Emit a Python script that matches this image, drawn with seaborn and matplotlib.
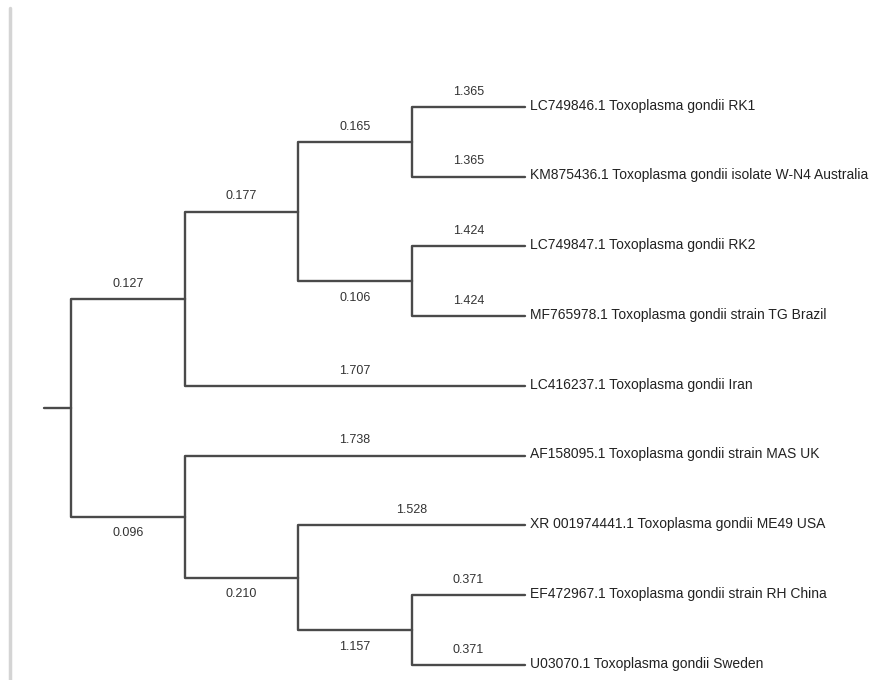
import pandas as pd
import seaborn as sns
import matplotlib.pyplot as plt

# Tree data (cladogram, tips aligned); children listed top to bottom
nodes = ["root", "A1", "B1", "C1", "C2", "A2", "B2", "C3"]
internal_length = [None, 0.127, 0.177, 0.165, 0.106, 0.096, 0.210, 1.157]

leaf_labels = [
    "LC749846.1 Toxoplasma gondii RK1",
    "KM875436.1 Toxoplasma gondii isolate W-N4 Australia",
    "LC749847.1 Toxoplasma gondii RK2",
    "MF765978.1 Toxoplasma gondii strain TG Brazil",
    "LC416237.1 Toxoplasma gondii Iran",
    "AF158095.1 Toxoplasma gondii strain MAS UK",
    "XR 001974441.1 Toxoplasma gondii ME49 USA",
    "EF472967.1 Toxoplasma gondii strain RH China",
    "U03070.1 Toxoplasma gondii Sweden",
]
leaf_length = [1.365, 1.365, 1.424, 1.424, 1.707, 1.738, 1.528, 0.371, 0.371]

# children of each internal node, top to bottom (ints are leaf indices)
children = {
    "root": ["A1", "A2"],
    "A1": ["B1", 4],
    "B1": ["C1", "C2"],
    "C1": [0, 1],
    "C2": [2, 3],
    "A2": [5, "B2"],
    "B2": [6, "C3"],
    "C3": [7, 8],
}

FONT = "Liberation Sans"
TIP_DEPTH = 4
pos = {}


def place(n, depth):
    if isinstance(n, int):
        pos[n] = (TIP_DEPTH, float(n))
        return pos[n]
    ys = [place(c, depth + 1)[1] for c in children[n]]
    pos[n] = (depth, sum(ys) / len(ys))
    return pos[n]


place("root", 0)

lengths = {n: l for n, l in zip(nodes, internal_length)}
lengths.update({i: l for i, l in enumerate(leaf_length)})

rows = []
labels = []
seg = 0
for p, kids in children.items():
    px, py = pos[p]
    for k, c in enumerate(kids):
        cx, cy = pos[c]
        for x, y in [(px, py), (px, cy), (cx, cy)]:
            rows.append({"seg": seg, "x": x, "y": y})
        seg += 1
        above = isinstance(c, int) or k == 0
        labels.append(((px + cx) / 2, cy, lengths[c], above))
# root stub
rx, ry = pos["root"]
rows.append({"seg": seg, "x": rx - 0.24, "y": ry})
rows.append({"seg": seg, "x": rx, "y": ry})
df = pd.DataFrame(rows)

sns.set_style("white")
fig = plt.figure(figsize=(8.71, 6.80), dpi=100)
ax = fig.add_axes([0, 0, 1, 1])
sns.lineplot(data=df, x="x", y="y", units="seg", estimator=None, sort=False,
             color="#4a4a4a", linewidth=1.7, ax=ax, legend=False)

for x, y, l, above in labels:
    ax.annotate(f"{l:.3f}", (x, y), xytext=(0, 11 if above else -12),
                textcoords="offset points", ha="center", va="center",
                fontsize=9, family=FONT, color="#333333")

for i, lab in enumerate(leaf_labels):
    ax.annotate(lab, (TIP_DEPTH, i), xytext=(3.5, 1), textcoords="offset points",
                ha="left", va="center", fontsize=10, family=FONT, color="#222222")

ax.set_xlim(-71 / 113.5, 800 / 113.5)
ax.set_ylim(573 / 69.75, -107 / 69.75)
ax.axis("off")

# light frame line on the left edge
fig.add_artist(plt.Line2D([9.5 / 871, 9.5 / 871], [0, 672 / 680],
                          transform=fig.transFigure, color="#d4d4d4", lw=2.5))

fig.savefig("out.png", dpi=100)
